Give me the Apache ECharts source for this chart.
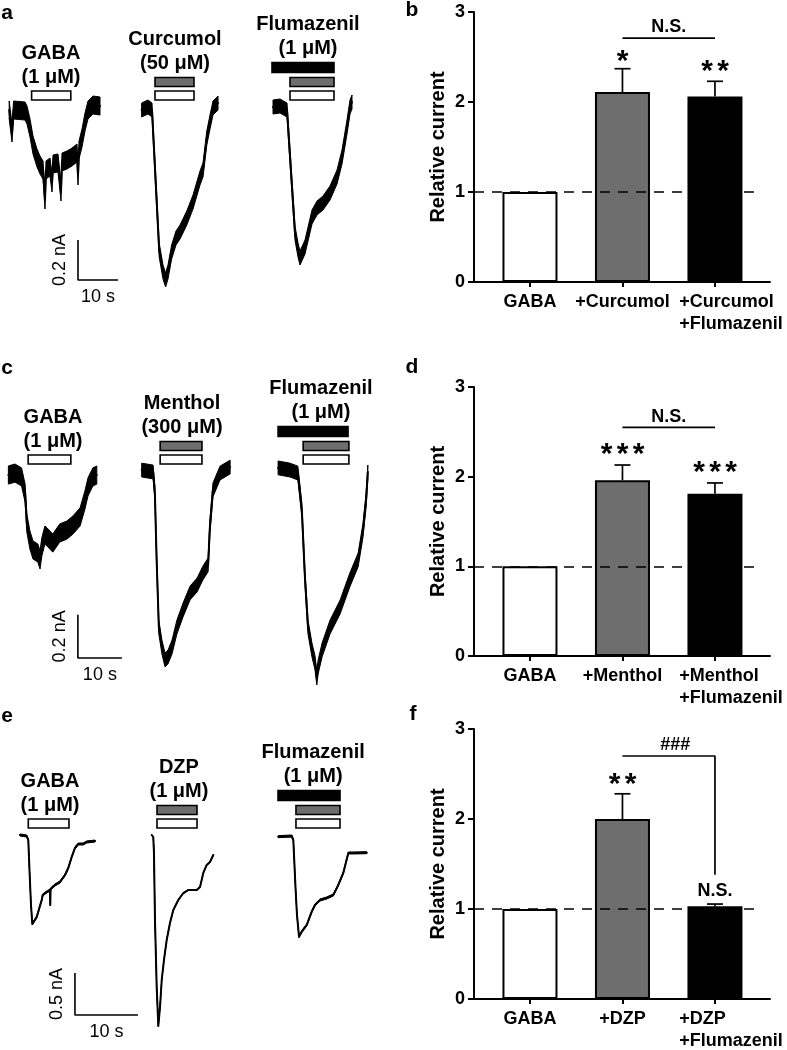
<!DOCTYPE html>
<html><head><meta charset="utf-8">
<script src="https://cdn.jsdelivr.net/npm/echarts@6/dist/echarts.min.js"></script>
<style>html,body{margin:0;padding:0;background:#fff}#c{width:787px;height:1050px}</style>
</head><body><div id="c"></div>
<script>
// ---------- Trace data: [time (s), current (nA)] ----------
const traceA1 = [[2.3,-0.01],[3.0,-0.125],[3.4,-0.01],[6.25,-0.015],[6.75,-0.035],[7.5,-0.1],[8.25,-0.185],[9.25,-0.25],[10,-0.285],[10.75,-0.31],[11.25,-0.46],[11.5,-0.31],[12.5,-0.295],[13,-0.375],[13.25,-0.28],[14.5,-0.275],[15.25,-0.42],[15.5,-0.27],[16.75,-0.26],[18,-0.245],[19.25,-0.225],[19.5,-0.34],[19.75,-0.21],[20.5,-0.15],[21.25,-0.07],[22,-0.01],[23.25,0.015],[25,0.01]];
const traceA2 = [[35.4,-0.01],[37,0.005],[38,-0.01],[39.8,-0.71],[40.75,-0.82],[41.4,-0.86],[42,-0.82],[42.9,-0.72],[44,-0.65],[45,-0.62],[46.7,-0.55],[48.25,-0.47],[50,-0.35],[50.75,-0.31],[51.7,-0.15],[52.5,-0.07],[53.25,0],[54.5,0.025]];
const traceA3 = [[68.25,0.005],[70,0.01],[71.75,-0.01],[73.75,-0.625],[74.5,-0.71],[75,-0.75],[76.25,-0.695],[78,-0.545],[79.25,-0.5],[80.75,-0.475],[82.5,-0.425],[84.25,-0.345],[85.5,-0.245],[86.75,-0.095],[87.5,0.005],[88,0.03]];
const traceC1 = [[1.9,-0.014],[3.4,-0.005],[4.9,-0.023],[5.7,-0.097],[6.1,-0.236],[6.8,-0.315],[7.5,-0.361],[8.6,-0.375],[9.1,-0.407],[9.5,-0.347],[10.2,-0.292],[10.7,-0.301],[12.0,-0.329],[13.6,-0.282],[15.2,-0.269],[16.6,-0.245],[18.2,-0.208],[19.3,-0.13],[20.0,-0.069],[21.1,-0.023],[22.0,-0.014]];
const traceC2 = [[32.2,0.009],[34.8,0],[35.2,-0.097],[35.6,-0.407],[36.1,-0.718],[36.8,-0.81],[37.5,-0.87],[38.2,-0.856],[39.1,-0.81],[40.2,-0.718],[41.6,-0.639],[43.2,-0.56],[44.8,-0.523],[46.1,-0.468],[47.3,-0.43],[47.7,-0.255],[48.4,-0.083],[50.0,-0.005],[52.3,0.023]];
const traceC3 = [[63.2,0.019],[65.9,0.009],[67.7,-0.005],[68.6,-0.176],[69.3,-0.486],[70.0,-0.718],[70.9,-0.824],[71.6,-0.884],[72.0,-0.954],[72.3,-0.903],[73.2,-0.824],[75.0,-0.718],[77.3,-0.625],[79.5,-0.5],[81.4,-0.407],[82.5,-0.269],[83.2,-0.13],[83.6,0]];
const traceE1 = [[3.17,0.012],[4.24,0],[4.49,-0.048],[4.68,-0.405],[4.92,-0.821],[5.13,-1.048],[5.83,-0.964],[6.62,-0.762],[6.78,-0.702],[7.41,-0.667],[7.94,-0.643],[7.98,-0.821],[8.03,-0.631],[8.73,-0.583],[9.52,-0.548],[10.32,-0.464],[10.84,-0.381],[11.38,-0.25],[11.9,-0.143],[12.43,-0.095],[13.22,-0.095],[13.76,-0.071],[15.08,-0.06]];
const traceE2 = [[24.08,0.012],[24.33,-0.012],[24.44,-0.202],[24.6,-1.0],[24.87,-1.798],[25.13,-2.262],[25.4,-2.036],[25.67,-1.714],[26.03,-1.476],[26.46,-1.238],[26.98,-1.036],[27.51,-0.881],[28.3,-0.762],[29.1,-0.679],[29.89,-0.643],[31.22,-0.643],[31.75,-0.607],[32.27,-0.44],[32.81,-0.345],[33.33,-0.31],[33.86,-0.226]];
const traceE3 = [[44.17,-0.008],[46.3,0],[46.56,-0.048],[46.9,-0.607],[47.14,-0.94],[47.46,-1.199],[47.89,-1.139],[48.68,-1.06],[49.48,-0.901],[50.0,-0.821],[50.79,-0.762],[51.86,-0.738],[52.9,-0.702],[53.7,-0.583],[54.49,-0.44],[55.29,-0.202],[56.08,-0.202],[58.21,-0.199]];

// peak-to-peak noise half-amplitude of each trace (nA), read from the recordings
const noiseA = [0.045, 0.035, 0.035];
const noiseC = [0.042, 0.032, 0.032];
const noiseE = [0.012, 0.006, 0.012];

// drug application bars: [start s, end s, kind 0=GABA(white) 1=drug(gray) 2=flumazenil(black)]
const barsA = [[7.9,17.7,0],[38.75,48.5,1],[38.75,48.5,0],[68,83.5,2],[72.5,83.5,1],[72.5,83.5,0]];
const barsC = [[6.4,16.1,0],[36.4,45.9,1],[36.4,45.9,0],[63.2,79.1,2],[68.9,79.3,1],[68.9,79.3,0]];
const barsE = [[4.49,10.95,0],[24.92,31.27,1],[24.92,31.27,0],[44.13,53.97,2],[46.98,53.97,1],[46.98,53.97,0]];

// trace labels: [center time, top bar kind, line1, line2]
const labelsA = [[12.75,0,'GABA','(1 μM)'],[43.75,1,'Curcumol','(50 μM)'],[77,2,'Flumazenil','(1 μM)']];
const labelsC = [[12.05,0,'GABA','(1 μM)'],[41.36,1,'Menthol','(300 μM)'],[72.95,2,'Flumazenil','(1 μM)']];
const labelsE = [[7.94,0,'GABA','(1 μM)'],[28.4,1,'DZP','(1 μM)'],[49.7,2,'Flumazenil','(1 μM)']];

// scale bars: [t0, i0, dt (s), di (nA), time label, current label]
const scaleA = [19.5,-0.86,10,0.2,'10 s','0.2 nA'];
const scaleC = [17.7,-0.861,10,0.2,'10 s','0.2 nA'];
const scaleE = [11.9,-2.131,10,0.5,'10 s','0.5 nA'];

// ---------- Bar chart data ----------
const catsB = ['GABA','+Curcumol','+Curcumol\n+Flumazenil'];
const meansB = [1, 2.11, 2.06];
const errsB = [0, 0.26, 0.17];
const textsB = [[1,2.54,'*'],[2,2.43,'**'],[1.5,2.83,'N.S.']];
const linesB = [[[1,2.71],[2,2.71]]];

const catsD = ['GABA','+Menthol','+Menthol\n+Flumazenil'];
const meansD = [1, 1.96, 1.81];
const errsD = [0, 0.17, 0.12];
const textsD = [[1,2.33,'***'],[2,2.13,'***'],[1.5,2.66,'N.S.']];
const linesD = [[[1,2.55],[2,2.55]]];

const catsF = ['GABA','+DZP','+DZP\n+Flumazenil'];
const meansF = [1, 2.0, 1.03];
const errsF = [0, 0.28, 0.025];
const textsF = [[1,2.47,'**'],[1.57,2.82,'###'],[2,1.2,'N.S.']];
const linesF = [[[1,2.70],[2,2.70],[2,1.38]]];

const yTicks = [0,1,2,3];

// ---------- styles ----------
const FONT = '"Liberation Sans", Arial, Helvetica, sans-serif';
const GRAY = '#6e6e6e';
const DRUG_COLORS = ['#ffffff', GRAY, '#000000'];
const DRUG_OFFSET = [12.5, 26, 40.5];
const DRUG_H = [9, 9, 10];
const BAR_COLORS = ['#ffffff', GRAY, '#000000'];

const grids = [], xAxes = [], yAxes = [], series = [];

function traceRow(gi, grid, xmax, ymin, ymax, traces, noise, bars, labels, scale, lw) {
  grids.push(Object.assign({outerBoundsMode:'none', containLabel:false}, grid));
  const xi = xAxes.length, yi = yAxes.length;
  xAxes.push({gridIndex:gi, type:'value', min:0, max:xmax, show:false});
  yAxes.push({gridIndex:gi, type:'value', min:ymin, max:ymax, show:false});
  traces.forEach((tr, k) => {
    const hw = noise[k];
    series.push({type:'custom', xAxisIndex:xi, yAxisIndex:yi, data:[tr[0]], clip:false, silent:true, animation:false, z:2,
      renderItem:(params, api) => {
        const up = tr.map(p => api.coord([p[0], p[1]+hw]));
        const lo = tr.slice().reverse().map(p => api.coord([p[0], p[1]-hw]));
        return {type:'polygon', shape:{points:up.concat(lo)}, style:{fill:'#000', stroke:'#000', lineWidth:1, lineJoin:'round'}};
      }});
    series.push({type:'line', xAxisIndex:xi, yAxisIndex:yi, data:tr, symbol:'none', showSymbol:false,
      lineStyle:{color:'#000', width:lw, join:'round', cap:'round'}, silent:true, clip:false, animation:false, z:2});
  });
  series.push({type:'custom', xAxisIndex:xi, yAxisIndex:yi, data:bars.map(b=>[b[0],b[2]]), clip:false, silent:true, animation:false, z:3,
    renderItem:(params, api) => {
      const b = bars[params.dataIndex];
      const p1 = api.coord([b[0],0]), p2 = api.coord([b[1],0]);
      const h = DRUG_H[b[2]], yc = p1[1] - DRUG_OFFSET[b[2]];
      return {type:'rect', shape:{x:p1[0], y:yc-h/2, width:p2[0]-p1[0], height:h},
        style:{fill:DRUG_COLORS[b[2]], stroke:'#000', lineWidth:1.6}};
    }});
  series.push({type:'custom', xAxisIndex:xi, yAxisIndex:yi, data:labels.map(l=>[l[0],l[1]]), clip:false, silent:true, animation:false, z:3,
    renderItem:(params, api) => {
      const l = labels[params.dataIndex];
      const p = api.coord([l[0],0]);
      return {type:'text', x:p[0], y:p[1]-DRUG_OFFSET[l[1]]-DRUG_H[l[1]]/2-2,
        style:{text:l[2]+'\n'+l[3], fontFamily:FONT, fontWeight:'bold', fontSize:20, lineHeight:24, fill:'#000', align:'center', verticalAlign:'bottom'}};
    }});
  const [t0,i0,dt,di,xl,yl] = scale;
  series.push({type:'line', xAxisIndex:xi, yAxisIndex:yi, data:[[t0,i0+di],[t0,i0],[t0+dt,i0]], symbol:'none',
    lineStyle:{color:'#000', width:1.6}, silent:true, clip:false, animation:false});
  series.push({type:'custom', xAxisIndex:xi, yAxisIndex:yi, data:[[t0,i0]], clip:false, silent:true, animation:false,
    renderItem:(params, api) => {
      const pv = api.coord([t0, i0+di/2]), ph = api.coord([t0+dt/2, i0]);
      return {type:'group', children:[
        {type:'text', x:pv[0]-18, y:pv[1], rotation:Math.PI/2, style:{text:yl, fontFamily:FONT, fontSize:18, fill:'#000', align:'center', verticalAlign:'middle'}},
        {type:'text', x:ph[0], y:ph[1]+17, style:{text:xl, fontFamily:FONT, fontSize:18, fill:'#000', align:'center', verticalAlign:'middle'}}
      ]};
    }});
}

function barPanel(gi, top, height, cats, means, errs, texts, lines) {
  grids.push({left:474, top:top, width:296, height:height, outerBoundsMode:'none', containLabel:false});
  const lab = {fontSize:18, fontWeight:'bold', fontFamily:FONT, color:'#000', lineHeight:22};
  const fmt = (v) => {
    const t = cats[Math.round(v)] || '';
    const ls = t.split('\n');
    if (ls.length === 1) return '{c|' + t + '}';
    return ls.map(s => '{m|' + s + '}').join('\n');
  };
  const rich = {c:Object.assign({}, lab), m:Object.assign({align:'left', padding:[0,0,0,32]}, lab)};
  const single = [], multi = [];
  cats.forEach((c,i) => (c.indexOf('\n') >= 0 ? multi : single).push(i));
  const xi = xAxes.length, yi = yAxes.length;
  xAxes.push({gridIndex:gi, type:'value', min:-0.605, max:2.595, position:'bottom',
    axisLine:{show:true, onZero:false, lineStyle:{color:'#000', width:2}},
    axisTick:{show:true, customValues:cats.map((c,i)=>i), length:5, lineStyle:{color:'#000', width:2}},
    axisLabel:{show:true, customValues:single, margin:9, formatter:fmt, rich:rich, hideOverlap:false},
    splitLine:{show:false}});
  xAxes.push({gridIndex:gi, type:'value', min:-0.605, max:2.595, position:'bottom', offset:0,
    axisLine:{show:false, onZero:false}, axisTick:{show:false},
    axisLabel:{show:true, customValues:multi, margin:9, formatter:fmt, rich:rich, hideOverlap:false},
    splitLine:{show:false}});
  yAxes.push({gridIndex:gi, type:'value', min:yTicks[0], max:yTicks[yTicks.length-1], interval:1,
    axisLine:{show:true, onZero:false, lineStyle:{color:'#000', width:2}},
    axisTick:{show:true, length:6, lineStyle:{color:'#000', width:2}},
    axisLabel:{color:'#000', fontSize:18, fontWeight:'bold', fontFamily:FONT, margin:9},
    splitLine:{show:false},
    name:'Relative current', nameLocation:'middle', nameGap:26,
    nameTextStyle:{fontSize:20, fontWeight:'bold', fontFamily:FONT, color:'#000'}});
  series.push({type:'bar', xAxisIndex:xi, yAxisIndex:yi, barWidth:55, animation:false, silent:true,
    data:means.map((m,i)=>({value:[i,m], itemStyle:{color:BAR_COLORS[i], borderColor:'#000', borderWidth:2}})),
    markLine:{silent:true, symbol:['none','none'], label:{show:false}, animation:false,
      lineStyle:{color:'#000', width:1.7, type:[10,8]},
      data:[[{coord:[-0.605,1]},{coord:[2.465,1]}]]}});
  const eb = means.map((m,i)=>[i,m,errs[i]]).filter(d=>d[2]>0);
  series.push({type:'custom', xAxisIndex:xi, yAxisIndex:yi, data:eb, clip:false, silent:true, animation:false, z:4,
    renderItem:(params, api) => {
      const x = api.value(0), m = api.value(1), e = api.value(2);
      const p0 = api.coord([x,m]), p1 = api.coord([x,m+e]);
      return {type:'group', children:[
        {type:'line', shape:{x1:p0[0], y1:p0[1], x2:p1[0], y2:p1[1]}, style:{stroke:'#000', lineWidth:1.7}},
        {type:'line', shape:{x1:p1[0]-8, y1:p1[1], x2:p1[0]+8, y2:p1[1]}, style:{stroke:'#000', lineWidth:1.7}}
      ]};
    }});
  lines.forEach(l => series.push({type:'line', xAxisIndex:xi, yAxisIndex:yi, data:l, symbol:'none',
    lineStyle:{color:'#000', width:1.7}, silent:true, clip:false, animation:false}));
  series.push({type:'custom', xAxisIndex:xi, yAxisIndex:yi, data:texts.map(t=>[t[0],t[1]]), clip:false, silent:true, animation:false, z:5,
    renderItem:(params, api) => {
      const t = texts[params.dataIndex];
      const p = api.coord([t[0],t[1]]);
      if (/^\*+$/.test(t[2])) {
        const n = t[2].length, sp = 16;
        const ch = [];
        for (let k = 0; k < n; k++) {
          ch.push({type:'text', x:p[0] + (k - (n-1)/2)*sp, y:p[1] + 8,
            style:{text:'*', fontFamily:FONT, fontWeight:'bold', fontSize:30, fill:'#000', align:'center', verticalAlign:'middle'}});
        }
        return {type:'group', children:ch};
      }
      return {type:'text', x:p[0], y:p[1],
        style:{text:t[2], fontFamily:FONT, fontWeight:'bold', fontSize:18, fill:'#000', align:'center', verticalAlign:'middle'}};
    }});
}

traceRow(0, {left:0, top:0, width:400, height:308}, 100, -1.0, 0.54, [traceA1,traceA2,traceA3], noiseA, barsA, labelsA, scaleA, 2);
traceRow(1, {left:0, top:364, width:440, height:324}, 100, -1.0, 0.5, [traceC1,traceC2,traceC3], noiseC, barsC, labelsC, scaleC, 2);
traceRow(2, {left:0, top:710, width:630, height:336}, 100, -2.5, 1.5, [traceE1,traceE2,traceE3], noiseE, barsE, labelsE, scaleE, 2);
barPanel(3, 12, 270, catsB, meansB, errsB, textsB, linesB);
barPanel(4, 387, 269, catsD, meansD, errsD, textsD, linesD);
barPanel(5, 729, 270, catsF, meansF, errsF, textsF, linesF);

const panelLetters = [['a',7,13],['b',412,10],['c',7,368],['d',412,367],['e',7,716],['f',413,714]];

const option = {
  backgroundColor:'#ffffff',
  animation:false,
  grid:grids, xAxis:xAxes, yAxis:yAxes, series:series,
  graphic: panelLetters.map(p => ({type:'text', x:p[1], y:p[2], silent:true,
    style:{text:p[0], font:'bold 21px ' + FONT, textAlign:'center', textVerticalAlign:'middle', fill:'#000'}}))
};
const chart = echarts.init(document.getElementById('c'), null, {renderer:'canvas'});
chart.setOption(option);
</script></body></html>
